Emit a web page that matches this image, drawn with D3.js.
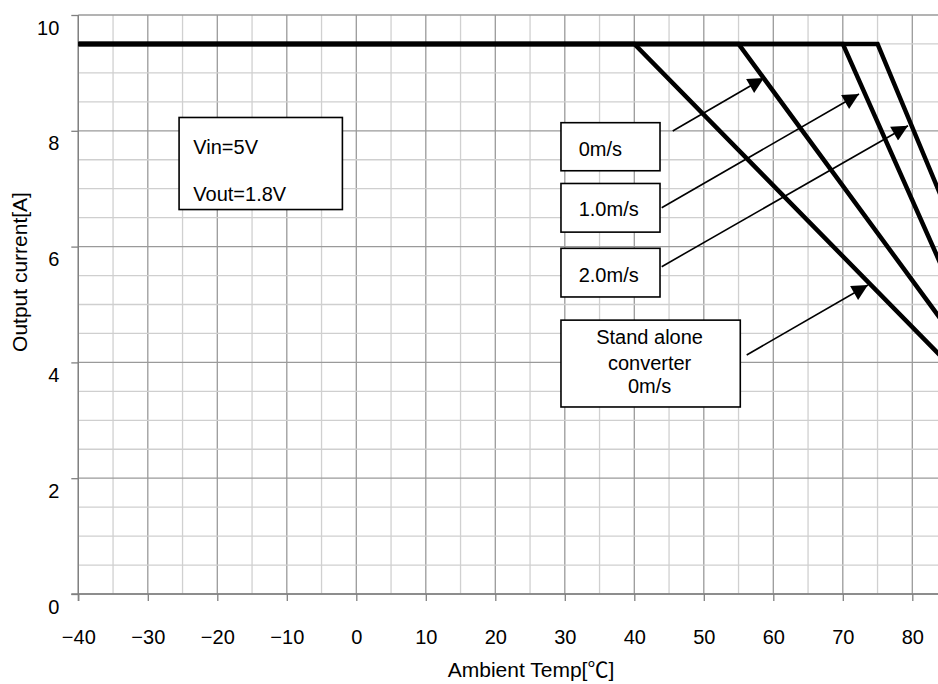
<!DOCTYPE html>
<html>
<head>
<meta charset="utf-8">
<script src="https://cdn.jsdelivr.net/npm/d3@7"></script>
<style>
  html, body { margin: 0; padding: 0; background: #fff; }
  svg { display: block; }
  text { font-family: "Liberation Sans", Arial, "Noto Sans CJK JP", sans-serif; fill: #000; }
</style>
</head>
<body>
<svg id="chart" width="938" height="684"></svg>
<script>
// ---- data ----
const xTicks = [-40, -30, -20, -10, 0, 10, 20, 30, 40, 50, 60, 70, 80];
const yTicks = [0, 2, 4, 6, 8, 10];
const seriesNames = ["Stand alone converter 0m/s", "0m/s", "1.0m/s", "2.0m/s"];
const standAloneTemp = [-40, 40, 85];
const standAloneCurrent = [9.5, 9.5, 4.0];
const air0Temp = [-40, 55, 85];
const air0Current = [9.5, 9.5, 4.6];
const air10Temp = [-40, 70, 85];
const air10Current = [9.5, 9.5, 5.45];
const air20Temp = [-40, 75, 85];
const air20Current = [9.5, 9.5, 6.62];
const conditionLines = ["Vin=5V", "Vout=1.8V"];
const xTitle = "Ambient Temp[℃]";
const yTitle = "Output current[A]";

// ---- layout ----
const svg = d3.select("#chart");
const x = d3.scaleLinear().domain([-40, 85]).range([78.3, 78.3 + 125 * 6.95]);
const y = d3.scaleLinear().domain([0, 10]).range([594, 15]);
const plotRight = 938;

// grid
const g = svg.append("g");
const xGrid = d3.range(-40, 86, 5);
const yGrid = d3.range(0, 10.01, 0.5);
g.selectAll("line.vg").data(xGrid).join("line")
  .attr("x1", d => x(d)).attr("x2", d => x(d))
  .attr("y1", y(10)).attr("y2", y(0))
  .attr("stroke", d => (d % 10 === 0) ? "#9a9a9a" : "#d0d0d0")
  .attr("stroke-width", 1.3);
g.selectAll("line.hg").data(yGrid).join("line")
  .attr("x1", x(-40)).attr("x2", plotRight)
  .attr("y1", d => y(d)).attr("y2", d => y(d))
  .attr("stroke", d => (Math.abs(d % 2) < 1e-9) ? "#9a9a9a" : "#cfcfcf")
  .attr("stroke-width", 1.3);

// axes
const xAxis = d3.axisBottom(x).tickValues(xTicks).tickSize(7).tickFormat(d3.format("d"));
const yAxis = d3.axisLeft(y).tickValues(yTicks).tickSize(7).tickFormat(d3.format("d"));
const gx = svg.append("g").attr("transform", `translate(0,${y(0)})`).call(xAxis);
gx.select(".domain").remove();
gx.append("line").attr("x1", x(-40) - 7).attr("x2", plotRight).attr("y1", 0).attr("y2", 0)
  .attr("stroke", "#808080").attr("stroke-width", 1.3);
gx.selectAll(".tick line").attr("stroke", "#808080").attr("stroke-width", 1.3);
gx.selectAll(".tick text").attr("font-size", 20).attr("y", 0).attr("dy", 50)
  .attr("font-family", "Liberation Sans, Arial, sans-serif");

const gy = svg.append("g").attr("transform", `translate(${x(-40)},0)`).call(yAxis);
gy.select(".domain").remove();
gy.append("line").attr("x1", 0).attr("x2", 0).attr("y1", y(10)).attr("y2", y(0) + 7)
  .attr("stroke", "#808080").attr("stroke-width", 1.3);
gy.selectAll(".tick line").attr("stroke", "#808080").attr("stroke-width", 1.3);
gy.selectAll(".tick text").attr("font-size", 20).attr("x", -19).attr("dy", 19)
  .attr("font-family", "Liberation Sans, Arial, sans-serif");

// axis titles
svg.append("text").attr("x", 531).attr("y", 677).attr("text-anchor", "middle")
  .attr("font-size", 21).text(xTitle);
svg.append("text").attr("transform", "translate(27,272) rotate(-90)")
  .attr("text-anchor", "middle").attr("font-size", 21).text(yTitle);

// curves
const series = [
  { name: seriesNames[0], t: standAloneTemp, c: standAloneCurrent },
  { name: seriesNames[1], t: air0Temp, c: air0Current },
  { name: seriesNames[2], t: air10Temp, c: air10Current },
  { name: seriesNames[3], t: air20Temp, c: air20Current }
];
const line = d3.line().x(d => x(d[0])).y(d => y(d[1]));
svg.append("defs").append("clipPath").attr("id", "clip")
  .append("rect").attr("x", x(-40)).attr("y", 0).attr("width", plotRight - x(-40)).attr("height", y(0));
svg.append("g").attr("clip-path", "url(#clip)")
  .selectAll("path").data(series).join("path")
  .attr("d", s => line(s.t.map((t, i) => [t, s.c[i]])))
  .attr("fill", "none").attr("stroke", "#000").attr("stroke-width", 4.5)
  .attr("stroke-linejoin", "miter");

// annotation boxes (data coordinates)
const boxes = [
  { x1: -25.5, x2: -2.0, y1: 8.23, y2: 6.64 },
  { x1: 29.45, x2: 43.7, y1: 8.14, y2: 7.31 },
  { x1: 29.45, x2: 43.7, y1: 7.09, y2: 6.25 },
  { x1: 29.45, x2: 43.7, y1: 5.97, y2: 5.13 },
  { x1: 29.45, x2: 55.25, y1: 4.73, y2: 3.23 }
];
svg.selectAll("rect.box").data(boxes).join("rect")
  .attr("x", d => x(d.x1)).attr("y", d => y(d.y1))
  .attr("width", d => x(d.x2) - x(d.x1)).attr("height", d => y(d.y2) - y(d.y1))
  .attr("fill", "#fff").attr("stroke", "#000").attr("stroke-width", 1.6);

const texts = [
  { t: conditionLines[0], x: -23.45, y: 7.6, a: "start" },
  { t: conditionLines[1], x: -23.45, y: 6.79, a: "start" },
  { t: seriesNames[1], x: 32.0, y: 7.56, a: "start" },
  { t: seriesNames[2], x: 32.0, y: 6.52, a: "start" },
  { t: seriesNames[3], x: 32.0, y: 5.39, a: "start" },
  { t: "Stand alone", x: 42.2, y: 4.32, a: "middle" },
  { t: "converter", x: 42.2, y: 3.87, a: "middle" },
  { t: "0m/s", x: 42.2, y: 3.47, a: "middle" }
];
svg.selectAll("text.ann").data(texts).join("text")
  .attr("x", d => x(d.x)).attr("y", d => y(d.y))
  .attr("text-anchor", d => d.a).attr("font-size", 20).text(d => d.t);

// arrows
svg.select("defs").append("marker").attr("id", "arrow")
  .attr("viewBox", "0 0 10 10").attr("refX", 10).attr("refY", 5)
  .attr("markerWidth", 21).attr("markerHeight", 16).attr("markerUnits", "userSpaceOnUse")
  .attr("orient", "auto")
  .append("path").attr("d", "M0,0 L10,5 L0,10 Z").attr("fill", "#000");
const arrows = [
  { x1: 45.53, y1: 7.997, x2: 58.66, y2: 8.912 },
  { x1: 43.94, y1: 6.672, x2: 72.33, y2: 8.636 },
  { x1: 43.94, y1: 5.653, x2: 79.38, y2: 8.088 },
  { x1: 56.17, y1: 4.128, x2: 73.62, y2: 5.337 }
];
svg.selectAll("line.arr").data(arrows).join("line")
  .attr("x1", d => x(d.x1)).attr("y1", d => y(d.y1))
  .attr("x2", d => x(d.x2)).attr("y2", d => y(d.y2))
  .attr("stroke", "#000").attr("stroke-width", 1.6)
  .attr("marker-end", "url(#arrow)");
</script>
</body>
</html>
